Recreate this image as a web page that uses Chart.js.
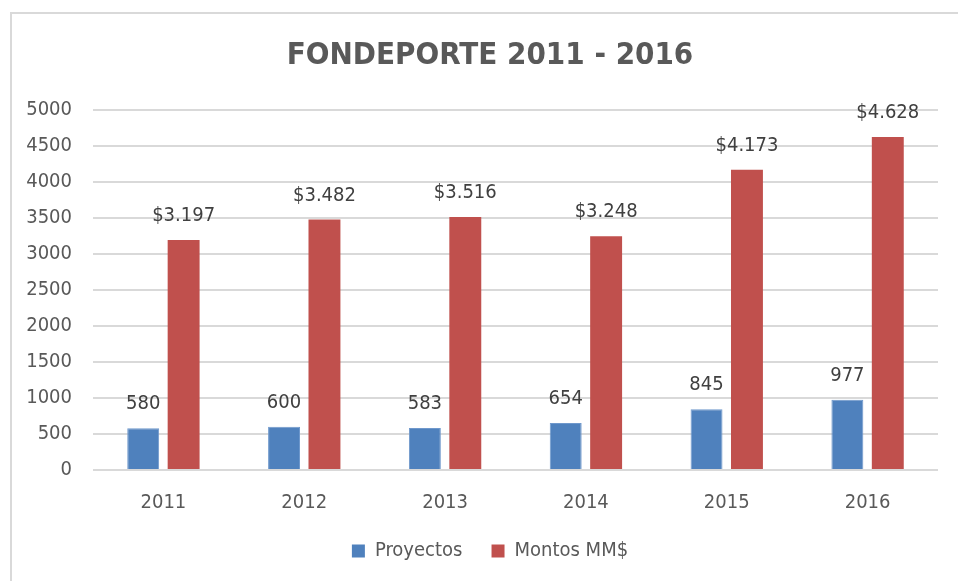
<!DOCTYPE html>
<html>
<head>
<meta charset="utf-8">
<script src="https://cdn.jsdelivr.net/npm/chart.js@4"></script>
<style>
  html, body { margin: 0; padding: 0; background: #fff; overflow: hidden; }
  #frame { position: absolute; left: 10px; top: 12px; width: 980px; height: 600px; border: 2px solid #d9d9d9; box-sizing: border-box; }
  #wrap { position: absolute; left: 0; top: 0; width: 958px; height: 581px; }
</style>
</head>
<body>
<div id="frame"></div>
<div id="wrap"><canvas id="myChart" width="958" height="581"></canvas></div>
<script>
const years = ['2011', '2012', '2013', '2014', '2015', '2016'];
const proyectos = [580, 600, 583, 654, 845, 977];
const montos = [3197, 3482, 3516, 3248, 4173, 4628];
const montosLabels = ['$3.197', '$3.482', '$3.516', '$3.248', '$4.173', '$4.628'];

const font = "'Liberation Sans Narrow', 'Arial Narrow', 'DejaVu Sans Condensed', sans-serif";

// labels above bars
const barLabels = {
  id: 'barLabels',
  afterDatasetsDraw(chart) {
    const ctx = chart.ctx;
    ctx.save();
    ctx.font = '20px ' + font;
    ctx.fillStyle = '#404040';
    ctx.textAlign = 'center';
    ctx.textBaseline = 'middle';
    chart.data.datasets.forEach((ds, i) => {
      chart.getDatasetMeta(i).data.forEach((bar, j) => {
        const txt = i === 1 ? montosLabels[j] : String(ds.data[j]);
        ctx.fillText(txt, bar.x, bar.y - 24);
      });
    });
    ctx.restore();
  }
};

// title and legend are centred on the frame, not on the plot
const shiftBoxes = {
  id: 'shiftBoxes',
  afterLayout(chart) {
    [chart.titleBlock, chart.legend].forEach((b) => {
      if (!b) return;
      b.left += 21;
      b.right += 21;
    });
  }
};

const data = {
  labels: years,
  datasets: [
    {
      label: 'Proyectos',
      data: proyectos,
      backgroundColor: '#4f81bd',
      borderColor: '#6f98cc',
      borderWidth: 1,
      categoryPercentage: 0.574,
      barPercentage: 0.79,
    },
    {
      label: 'Montos MM$',
      data: montos,
      backgroundColor: '#c0504d',
      categoryPercentage: 0.574,
      barPercentage: 0.79,
    },
  ],
};

const config = {
  type: 'bar',
  data: data,
  plugins: [barLabels, shiftBoxes],
  options: {
    responsive: false,
    animation: false,
    layout: { padding: { top: 20, bottom: 10, left: 0, right: 20 } },
    plugins: {
      title: {
        display: true,
        text: 'FONDEPORTE 2011 - 2016',
        color: '#595959',
        font: { family: font, size: 31, weight: 'bold' },
        padding: { top: 17, bottom: 36 },
      },
      legend: {
        position: 'bottom',
        labels: {
          color: '#595959',
          font: { family: font, size: 20 },
          boxWidth: 13,
          boxHeight: 13,
          padding: 12,
          generateLabels(chart) {
            const items = Chart.defaults.plugins.legend.labels.generateLabels(chart);
            items[0].text += '\u00a0\u00a0\u00a0';
            items.forEach((it) => { it.lineWidth = 0; });
            return items;
          },
        },
      },
      tooltip: { enabled: false },
    },
    scales: {
      x: {
        grid: { display: false },
        border: { display: false },
        ticks: { color: '#595959', font: { family: font, size: 20 }, padding: 13 },
        afterFit(scale) { scale.height = 59; },
      },
      y: {
        min: 0,
        max: 5000,
        ticks: {
          stepSize: 500,
          color: '#595959',
          font: { family: font, size: 20 },
          padding: 21,
          callback: (v) => String(v),
        },
        grid: { color: '#d9d9d9', lineWidth: 2, drawTicks: false },
        border: { display: false },
        afterFit(scale) { scale.width = 93; },
      },
    },
  },
};

var myChart = new Chart(document.getElementById('myChart'), config);
</script>
</body>
</html>
